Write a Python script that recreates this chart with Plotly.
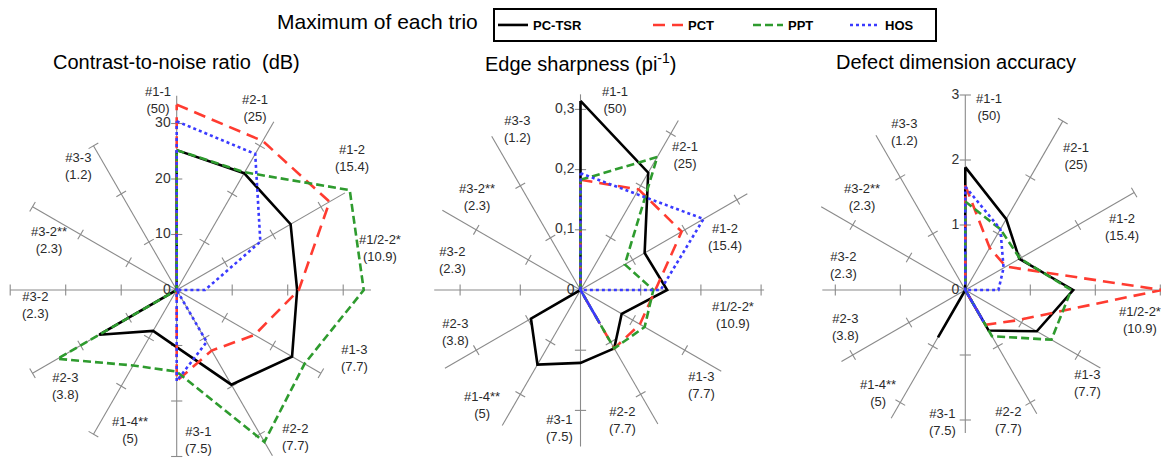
import numpy as np
import plotly.graph_objects as go

# ---------------- data ----------------
CATEGORIES = ["#1-1", "#2-1", "#1-2", "#1/2-2*", "#1-3", "#2-2",
              "#3-1", "#1-4**", "#2-3", "#3-2", "#3-2**", "#3-3"]
SAMPLE_NOTES = ["(50)", "(25)", "(15.4)", "(10.9)", "(7.7)", "(7.7)",
                "(7.5)", "(5)", "(3.8)", "(2.3)", "(2.3)", "(1.2)"]
SERIES_NAMES = ["PC-TSR", "PCT", "PPT", "HOS"]
PANEL_TITLES = ["Contrast-to-noise ratio \u00a0(dB)",
                "Edge sharpness (pi<sup>-1</sup>)",
                "Defect dimension accuracy"]

# Contrast-to-noise ratio (dB)
CNR_PCTSR = [25.2, 24.3, 23.7, 21.7, 24.0, 19.7, 10.3, 8.5, 16.1, 0, 0, 0]
CNR_PCT = [33.4, 31.0, 31.8, 22.0, 16.2, 12.6, 16.4, 0, 0, 0, 0, 0]
CNR_PPT = [25.2, 24.5, 36.0, 33.7, 26.6, 31.6, 14.7, 15.7, 24.8, 0, 0, 0]
CNR_HOS = [30.4, 28.3, 17.4, 5.1, 0, 10.8, 16.4, 0, 0, 0, 0, 0]

# Edge sharpness (pi^-1)
ES_PCTSR = [0.314, 0.225, 0.123, 0.144, 0.079, 0.112, 0.121, 0.143, 0.095, 0, 0, 0]
ES_PCT = [0.183, 0.193, 0.194, 0.125, 0.114, 0.112, 0, 0, 0, 0, 0, 0]
ES_PPT = [0.183, 0.255, 0.085, 0.121, 0.123, 0.112, 0, 0, 0, 0, 0, 0]
ES_HOS = [0.194, 0.184, 0.236, 0.133, 0, 0.064, 0, 0, 0, 0, 0, 0]

# Defect dimension accuracy
DDA_PCTSR = [1.89, 1.26, 0.96, 1.66, 1.27, 0.72, 0, 0.84, 0, 0, 0, 0]
DDA_PCT = [1.61, 0.75, 0.72, 3.02, 0.93, 0.62, 0, 0, 0, 0, 0, 0]
DDA_PPT = [1.36, 1.08, 0.97, 1.63, 1.53, 0.82, 0, 0, 0, 0, 0, 0]
DDA_HOS = [1.59, 1.08, 0.68, 0.51, 0, 0.56, 0, 0, 0, 0, 0, 0]

# radial ticks
CNR_TICKS = [0, 10, 20, 30]
CNR_TICK_LABELS = ["0", "10", "20", "30"]
ES_TICKS = [0, 0.1, 0.2, 0.3]
ES_TICK_LABELS = ["0", "0,1", "0,2", "0,3"]
DDA_TICKS = [0, 1, 2, 3]
DDA_TICK_LABELS = ["0", "1", "2", "3"]

# ---------------- styling / layout ----------------
W, H = 1169, 459
PAGE_OFFSET = 8          # default page margin of the html body
SPOKE_LEN = [
    [35, 35, 35, 35, 30, 34.5, 30, 30, 30, 30, 30, 30],
    [0.325, 0.325, 0.32, 0.305, 0.27, 0.257, 0.26, 0.26, 0.26, 0.243, 0.265, 0.295],
    [3.0, 3.0, 3.0, 3.0, 2.4, 2.2, 2.2, 2.28, 2.2, 2.2, 2.56, 2.75],
]
CENTER_X_PX = [176.7, 580.5, 965.3]
CENTER_Y_PX = 290
PX_PER_UNIT = [5.55, 602.0, 65.0]
DOMAIN_X_PX = [(0, 385), (385, 775), (775, W)]
TITLE_X_PX = [176, 580, 956]
TITLE_Y_PX = 62
LABEL_PX = [
    [(158, 100), (255, 108), (352, 158), (380, 248), (354, 358), (295, 437),
     (198, 440), (130, 430), (65, 386), (35, 305), (49, 240), (78, 166)],
    [(615, 100), (685, 155), (725, 237), (733, 315), (701, 385), (622, 420),
     (559, 428), (482, 405), (455, 332), (452, 260), (477, 197), (518, 129)],
    [(989, 107), (1076, 156), (1122, 227), (1140, 320), (1087, 383), (1008, 420),
     (942, 422), (878, 393), (845, 327), (843, 265), (862, 197), (904, 132)],
]
LINE_STYLES = [
    dict(color="black", dash="solid", width=2.6),
    dict(color="#ff3b30", dash="12px,7px", width=2.6),
    dict(color="#2e9b2e", dash="8px,4px", width=2.6),
    dict(color="#3a3aff", dash="3px,3px", width=2.6),
]
LEGEND_WIDTHS = [110, 55, 52, 45]
GREY = "#8a8a8a"
FONT = "Liberation Sans, Arial, sans-serif"

# spoke directions: clockwise from 12 o'clock, one per category
SPOKE_DEG = np.arange(len(CATEGORIES)) * 360.0 / len(CATEGORIES)
SPOKE_RAD = np.deg2rad(SPOKE_DEG)


def to_xy(r, idx):
    r = np.asarray(r, dtype=float)
    a = SPOKE_RAD[np.asarray(idx)]
    return r * np.sin(a), r * np.cos(a)


def px_x(px):
    return (px - PAGE_OFFSET) / W


def px_y(py):
    return 1 - (py - PAGE_OFFSET) / H


panels = [
    dict(series=[CNR_PCTSR, CNR_PCT, CNR_PPT, CNR_HOS], ticks=CNR_TICKS, tick_labels=CNR_TICK_LABELS),
    dict(series=[ES_PCTSR, ES_PCT, ES_PPT, ES_HOS], ticks=ES_TICKS, tick_labels=ES_TICK_LABELS),
    dict(series=[DDA_PCTSR, DDA_PCT, DDA_PPT, DDA_HOS], ticks=DDA_TICKS, tick_labels=DDA_TICK_LABELS),
]

fig = go.Figure()
annotations = []
axes_layout = {}
n = len(CATEGORIES)

for p, panel in enumerate(panels):
    xa = "x" if p == 0 else f"x{p + 1}"
    ya = "y" if p == 0 else f"y{p + 1}"
    common = dict(xaxis=xa, yaxis=ya, showlegend=False, hoverinfo="skip", cliponaxis=False)

    # spokes
    xs, ys = [], []
    for k, L in enumerate(SPOKE_LEN[p]):
        x0, y0 = to_xy([0, L], [k, k])
        xs += list(x0) + [None]
        ys += list(y0) + [None]
    fig.add_trace(go.Scatter(x=xs, y=ys, mode="lines", line=dict(color=GREY, width=1.1), **common))

    # tick marks on spokes
    r_t, k_t = [], []
    for k, L in enumerate(SPOKE_LEN[p]):
        for t in panel["ticks"][1:]:
            if t <= L + 1e-9:
                r_t.append(t)
                k_t.append(k)
    tx, ty = to_xy(r_t, k_t)
    fig.add_trace(go.Scatter(x=tx, y=ty, mode="markers",
                             marker=dict(symbol="line-ew", size=8,
                                         angle=list(SPOKE_DEG[np.asarray(k_t)]),
                                         line=dict(color=GREY, width=1.1)),
                             **common))

    # radial tick labels along the first spoke
    lx, ly = to_xy(panel["ticks"], [0] * len(panel["ticks"]))
    fig.add_trace(go.Scatter(x=lx, y=ly, mode="markers+text", text=panel["tick_labels"],
                             textposition="middle left",
                             marker=dict(size=8, opacity=0),
                             textfont=dict(family=FONT, size=14, color="#333333"),
                             **common))

    # data series (closed polygons)
    idx = list(range(n)) + [0]
    for s, vals in enumerate(panel["series"]):
        sx, sy = to_xy(list(vals) + [vals[0]], idx)
        fig.add_trace(go.Scatter(x=sx, y=sy, mode="lines", name=SERIES_NAMES[s],
                                 line=LINE_STYLES[s], xaxis=xa, yaxis=ya,
                                 legendgroup=SERIES_NAMES[s],
                                 legendwidth=LEGEND_WIDTHS[s],
                                 showlegend=(p == 0), cliponaxis=False))

    # axes: linear scales with equal px-per-unit in x and y
    ppu = PX_PER_UNIT[p]
    cxf = CENTER_X_PX[p] - PAGE_OFFSET
    cyf = CENTER_Y_PX - PAGE_OFFSET
    a, b = DOMAIN_X_PX[p]
    axis_common = dict(visible=False, showgrid=False, zeroline=False, fixedrange=True)
    axes_layout["xaxis" if p == 0 else f"xaxis{p + 1}"] = dict(
        domain=[a / W, b / W], range=[(a - cxf) / ppu, (b - cxf) / ppu],
        anchor=ya, **axis_common)
    axes_layout["yaxis" if p == 0 else f"yaxis{p + 1}"] = dict(
        domain=[0, 1], range=[(cyf - H) / ppu, cyf / ppu], anchor=xa, **axis_common)

    # title
    annotations.append(dict(text=PANEL_TITLES[p], x=px_x(TITLE_X_PX[p]), y=px_y(TITLE_Y_PX),
                            xref="paper", yref="paper", showarrow=False,
                            xanchor="center", yanchor="middle",
                            font=dict(family=FONT, size=20, color="black")))
    # category labels
    for (cx_, cy_), c, note in zip(LABEL_PX[p], CATEGORIES, SAMPLE_NOTES):
        annotations.append(dict(text=f"{c}<br>{note}", x=px_x(cx_), y=px_y(cy_),
                                xref="paper", yref="paper", showarrow=False,
                                xanchor="center", yanchor="middle", align="center",
                                font=dict(family=FONT, size=13, color="#2a2a2a")))

annotations.append(dict(text="Maximum of each trio", x=px_x(378), y=px_y(21),
                        xref="paper", yref="paper", showarrow=False,
                        xanchor="center", yanchor="middle",
                        font=dict(family=FONT, size=21, color="black")))

fig.update_layout(
    width=W, height=H,
    margin=dict(l=0, r=0, t=0, b=0),
    paper_bgcolor="white",
    plot_bgcolor="rgba(0,0,0,0)",
    annotations=annotations,
    showlegend=True,
    legend=dict(orientation="h", x=px_x(493), y=1.0, xanchor="left", yanchor="top",
                bordercolor="black", borderwidth=2, bgcolor="white",
                font=dict(family=FONT, size=13, color="black", weight="bold"),
                itemclick=False, itemdoubleclick=False),
    **axes_layout,
)

fig.write_html("out.html")
